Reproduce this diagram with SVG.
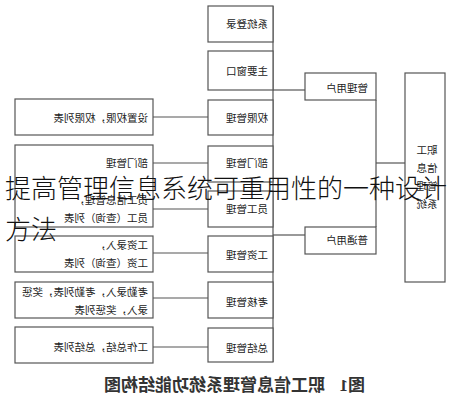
<svg xmlns="http://www.w3.org/2000/svg" width="456" height="400" viewBox="0 0 456 400">
<style>
.b{fill:#fff;stroke:#555;stroke-width:1.2}
.c{fill:none;stroke:#555;stroke-width:1.2}
.t{font-family:"Noto Sans CJK SC","Noto Sans",sans-serif;font-size:10.5px;fill:#222}
.cap{font-family:"Noto Sans CJK SC","Noto Sans",sans-serif;font-size:17px;font-weight:bold;fill:#333}
.ov{font-family:"Noto Sans CJK SC","Noto Sans",sans-serif;font-size:26px;font-weight:300;fill:#111}
</style>
<rect width="456" height="400" fill="#fff"/>
<g transform="matrix(-1 0 0 1 456 0)">
<g id="connectors">
<line class="c" x1="183" y1="6" x2="183" y2="362"/>
<line class="c" x1="151" y1="90" x2="183" y2="90"/>
<line class="c" x1="151" y1="235" x2="183" y2="235"/>
<line class="c" x1="80" y1="100" x2="80" y2="227"/>
<line class="c" x1="51" y1="163" x2="80" y2="163"/>
<line class="c" x1="248" y1="117" x2="303" y2="117"/>
<line class="c" x1="248" y1="163" x2="303" y2="163"/>
<line class="c" x1="248" y1="209" x2="303" y2="209"/>
<line class="c" x1="248" y1="253" x2="303" y2="253"/>
<line class="c" x1="248" y1="298" x2="303" y2="298"/>
<line class="c" x1="248" y1="347" x2="303" y2="347"/>
</g>
<g id="sys"><rect class="b" x="11" y="73" width="40" height="209"/>
<text class="t" x="29" y="154" text-anchor="middle">职工</text>
<text class="t" x="29" y="172" text-anchor="middle">信息</text>
<text class="t" x="29" y="190" text-anchor="middle">管理</text>
<text class="t" x="29" y="208" text-anchor="middle">系统</text></g>
<g id="admin"><rect class="b" x="80" y="73" width="71" height="27"/><text class="t" x="88" y="92">管理用户</text></g>
<g id="user"><rect class="b" x="80" y="227" width="71" height="27"/><text class="t" x="88" y="244">普通用户</text></g>
<g id="m1"><rect class="b" x="183" y="6" width="65" height="36"/><text class="t" x="188" y="28">系统登录</text></g>
<g id="m2"><rect class="b" x="183" y="51" width="65" height="39"/><text class="t" x="188" y="75">主要窗口</text></g>
<g id="m3"><rect class="b" x="183" y="100" width="65" height="35"/><text class="t" x="188" y="122">权限管理</text></g>
<g id="m4"><rect class="b" x="183" y="146" width="65" height="36"/><text class="t" x="188" y="167">部门管理</text></g>
<g id="m5"><rect class="b" x="183" y="191" width="65" height="36"/><text class="t" x="188" y="213">员工管理</text></g>
<g id="m6"><rect class="b" x="183" y="236" width="65" height="36"/><text class="t" x="188" y="259">工资管理</text></g>
<g id="m7"><rect class="b" x="183" y="282" width="65" height="36"/><text class="t" x="188" y="306">考核管理</text></g>
<g id="m8"><rect class="b" x="183" y="328" width="65" height="34"/><text class="t" x="188" y="352">总结管理</text></g>
<g id="d1"><rect class="b" x="303" y="99" width="138" height="36"/><text class="t" x="308" y="122">设置权限，权限列表</text></g>
<g id="d2"><rect class="b" x="303" y="145" width="138" height="82"/><text class="t" x="308" y="167">部门管理</text><text class="t" x="308" y="204">员工信息管理，</text><text class="t" x="308" y="222">员工（查询）列表</text></g>
<g id="d3"><rect class="b" x="303" y="236" width="138" height="36"/><text class="t" x="308" y="249">工资录入，</text><text class="t" x="308" y="267">工资（查询）列表</text></g>
<g id="d4"><rect class="b" x="303" y="282" width="138" height="36"/><text class="t" x="308" y="296">考勤录入，考勤列表，奖惩</text><text class="t" x="308" y="314">录入，奖惩列表</text></g>
<g id="d5"><rect class="b" x="303" y="327" width="138" height="36"/><text class="t" x="308" y="351">工作总结，总结列表</text></g>
<text class="cap" x="91" y="391">图<tspan font-family="Liberation Serif,serif">1</tspan><tspan x="131">职工信息管理系统功能结构图</tspan></text>
</g>
<text class="ov" x="5" y="198">提高管理信息系统可重用性的一种设计</text>
<text class="ov" x="5" y="239">方法</text>
</svg>
